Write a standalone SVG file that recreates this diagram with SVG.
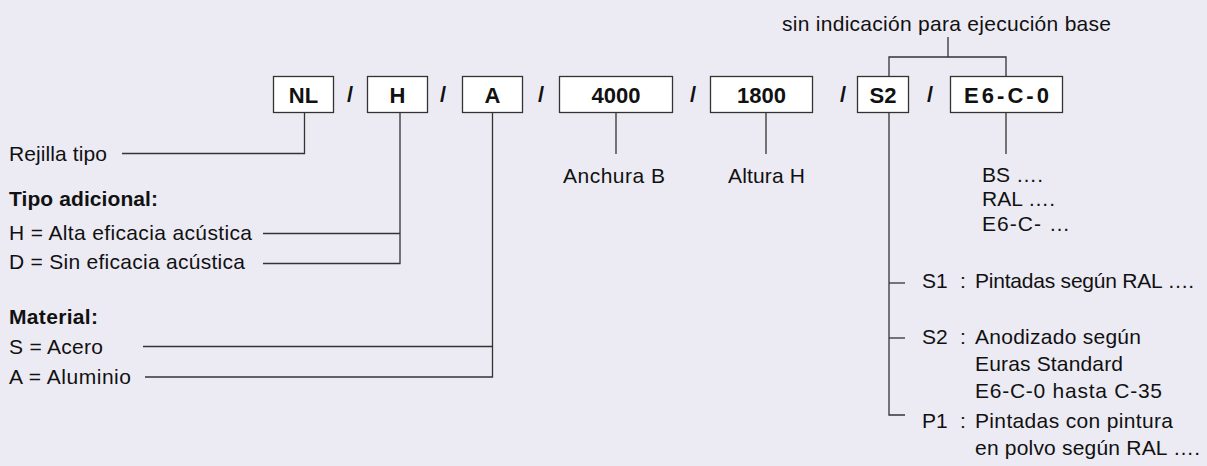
<svg xmlns="http://www.w3.org/2000/svg" width="1207" height="466" viewBox="0 0 1207 466">
  <style>
    text { font-family: "Liberation Sans", Arial, Helvetica, sans-serif; fill: #111; }
    .t { font-size: 21px; }
    .b { font-size: 21px; font-weight: bold; }
    .lbl { font-size: 22px; font-weight: bold; text-anchor: middle; }
    .box { fill: #ffffff; stroke: #333; stroke-width: 1.3; }
    .ln { fill: none; stroke: #333; stroke-width: 1.3; }
  </style>
  <rect width="1207" height="466" fill="#ECEBF4"/>

  <!-- code fields -->
  <g id="node-nl"><rect class="box" x="273.5" y="76.5" width="60" height="36"/><text class="lbl" x="303.5" y="102.5">NL</text></g>
  <g id="node-h"><rect class="box" x="367.5" y="76.5" width="60" height="36"/><text class="lbl" x="397.5" y="102.5">H</text></g>
  <g id="node-a"><rect class="box" x="462.5" y="76.5" width="60" height="36"/><text class="lbl" x="492.5" y="102.5">A</text></g>
  <g id="node-4000"><rect class="box" x="559.5" y="76.5" width="113" height="36"/><text class="lbl" x="616" y="102.5">4000</text></g>
  <g id="node-1800"><rect class="box" x="710.5" y="76.5" width="102" height="36"/><text class="lbl" x="761.5" y="102.5">1800</text></g>
  <g id="node-s2"><rect class="box" x="857.5" y="76.5" width="51" height="36"/><text class="lbl" x="883" y="102.5">S2</text></g>
  <g id="node-e6"><rect class="box" x="950.5" y="76.5" width="112" height="36"/><text class="lbl" x="1006.5" y="102.5" textLength="85">E6-C-0</text></g>

  <!-- separators -->
  <g id="separators">
    <text class="lbl" x="350" y="102">/</text>
    <text class="lbl" x="443" y="102">/</text>
    <text class="lbl" x="541" y="102">/</text>
    <text class="lbl" x="693" y="102">/</text>
    <text class="lbl" x="843" y="102">/</text>
    <text class="lbl" x="930" y="102">/</text>
  </g>

  <!-- connectors -->
  <g id="connectors">
    <path class="ln" d="M304.5,113 V153.5 H122"/>
    <path class="ln" d="M400,113 V263.5 H263"/>
    <path class="ln" d="M400,233.5 H263"/>
    <path class="ln" d="M492.5,113 V377 H145"/>
    <path class="ln" d="M492.5,346.5 H143"/>
    <path class="ln" d="M616,113 V154"/>
    <path class="ln" d="M766,113 V154"/>
    <path class="ln" d="M1006,113 V154"/>
    <path class="ln" d="M889,113 V415 H905"/>
    <path class="ln" d="M889,283 H905"/>
    <path class="ln" d="M889,338 H905"/>
    <path class="ln" d="M889,76 V57 H1006 V76"/>
    <path class="ln" d="M948,57 V37"/>
  </g>

  <!-- labels -->
  <g id="note-base"><text class="t" x="782" y="31" textLength="329">sin indicación para ejecución base</text></g>

  <g id="legend-tipo"><text class="t" x="9" y="160.5" textLength="98">Rejilla tipo</text></g>

  <g id="legend-adicional">
    <text class="b" x="9" y="206" textLength="149">Tipo adicional:</text>
    <text class="t" x="9" y="239.5" textLength="243">H = Alta eficacia acústica</text>
    <text class="t" x="9" y="269" textLength="236">D = Sin eficacia acústica</text>
  </g>

  <g id="legend-material">
    <text class="b" x="9" y="324" textLength="89">Material:</text>
    <text class="t" x="9" y="354" textLength="94">S = Acero</text>
    <text class="t" x="9" y="383.5" textLength="122">A = Aluminio</text>
  </g>

  <g id="legend-anchura"><text class="t" x="563" y="182.5" textLength="102">Anchura B</text></g>
  <g id="legend-altura"><text class="t" x="728" y="182.5" textLength="77">Altura H</text></g>

  <g id="legend-colour">
    <text class="t" x="982" y="181.5" textLength="61">BS ….</text>
    <text class="t" x="982" y="206" textLength="73">RAL ….</text>
    <text class="t" x="982" y="230.5" textLength="88">E6-C- …</text>
  </g>

  <g id="legend-s1">
    <text class="t" x="922" y="288">S1</text>
    <text class="t" x="960" y="288">:</text>
    <text class="t" x="975" y="288" textLength="219">Pintadas según RAL ….</text>
  </g>

  <g id="legend-s2">
    <text class="t" x="922" y="344">S2</text>
    <text class="t" x="960" y="344">:</text>
    <text class="t" x="975" y="344" textLength="166">Anodizado según</text>
    <text class="t" x="975" y="371" textLength="148">Euras Standard</text>
    <text class="t" x="975" y="398" textLength="187">E6-C-0 hasta C-35</text>
  </g>

  <g id="legend-p1">
    <text class="t" x="922" y="427.5">P1</text>
    <text class="t" x="960" y="427.5">:</text>
    <text class="t" x="975" y="427.5" textLength="198">Pintadas con pintura</text>
    <text class="t" x="975" y="454.5" textLength="225">en polvo según RAL ….</text>
  </g>
</svg>
